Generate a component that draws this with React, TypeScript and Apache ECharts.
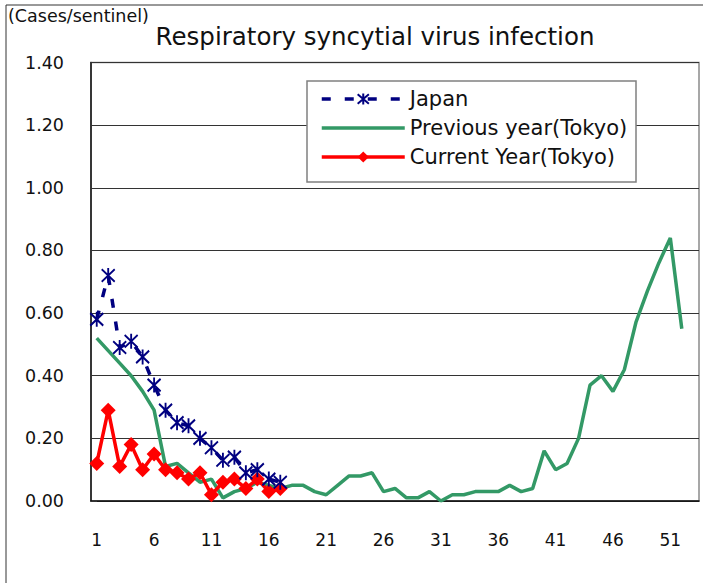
import React, { useEffect, useRef } from "react";
import * as echarts from "echarts";

const weeks: string[] = Array.from({ length: 53 }, (_, i) => String(i + 1));

const japan: number[] = [0.58, 0.72, 0.49, 0.51, 0.46, 0.37, 0.29, 0.25, 0.24, 0.2, 0.17, 0.13, 0.14, 0.09, 0.1, 0.07, 0.06];

const previousYear: number[] = [
  0.52, 0.48, 0.44, 0.4, 0.35, 0.29, 0.11, 0.12, 0.09, 0.06,
  0.07, 0.01, 0.03, 0.04, 0.06, 0.05, 0.04, 0.05, 0.05, 0.03,
  0.02, 0.05, 0.08, 0.08, 0.09, 0.03, 0.04, 0.01, 0.01, 0.03,
  0.0, 0.02, 0.02, 0.03, 0.03, 0.03, 0.05, 0.03, 0.04, 0.16,
  0.1, 0.12, 0.2, 0.37, 0.4, 0.35, 0.42, 0.57, 0.67, 0.76,
  0.84, 0.55,
];

const currentYear: number[] = [0.12, 0.29, 0.11, 0.18, 0.1, 0.15, 0.1, 0.09, 0.07, 0.09, 0.02, 0.06, 0.07, 0.04, 0.07, 0.03, 0.04];

const FONT = "DejaVu Sans";
const STAR = "path://M0,1L10,11M10,1L0,11M5,0L5,12";
const LINE_ICON = "path://M0,0L0.01,0M0,14L0.01,14M0,5.25L83,5.25L83,8.75L0,8.75Z";

export default function App() {
  const ref = useRef<HTMLDivElement>(null);
  useEffect(() => {
    document.body.style.margin = "0";
    const chart = echarts.init(ref.current!, null, { renderer: "svg" });
    chart.setOption({
      animation: false,
      backgroundColor: "#ffffff",
      textStyle: { fontFamily: FONT },
      grid: {
        left: 91,
        top: 62.5,
        right: 4,
        bottom: 82,
        show: true,
        borderColor: "#8a8a8a",
        borderWidth: 1.5,
        backgroundColor: "transparent",
      },
      graphic: [
        { type: "line", shape: { x1: 6, y1: 5, x2: 703, y2: 5 }, style: { stroke: "#333", lineWidth: 1 } },
        { type: "line", shape: { x1: 6, y1: 5, x2: 6, y2: 583 }, style: { stroke: "#333", lineWidth: 1 } },
        {
          type: "text",
          x: 8,
          y: 16,
          style: { text: "(Cases/sentinel)", fontSize: 17.5, fontFamily: FONT, fill: "#111", textVerticalAlign: "middle" },
        },
        {
          type: "text",
          x: 375,
          y: 36,
          style: {
            text: "Respiratory syncytial virus infection",
            fontSize: 24.5,
            fontFamily: FONT,
            fill: "#111",
            textAlign: "center",
            textVerticalAlign: "middle",
          },
        },
        {
          type: "rect",
          z: 3,
          shape: { x: 307, y: 81, width: 329, height: 101 },
          style: { fill: "#ffffff", stroke: "#808080", lineWidth: 1.5 },
        },
      ],
      legend: {
        orient: "vertical",
        left: 307,
        top: 81,
        padding: [7, 4, 13, 13],
        itemWidth: 83,
        itemHeight: 14,
        itemGap: 7,
        z: 5,
        textStyle: { fontSize: 21, lineHeight: 22, color: "#111", fontFamily: FONT },
        data: [
          { name: "Japan", lineStyle: { width: 3.5 } },
          { name: "Previous year(Tokyo)", icon: LINE_ICON, itemStyle: { color: "#339966" } },
          { name: "Current Year(Tokyo)", lineStyle: { width: 3.5 } },
        ],
      },
      xAxis: {
        type: "category",
        data: weeks,
        boundaryGap: true,
        axisLine: { lineStyle: { color: "#111", width: 1.5 } },
        axisTick: { interval: 4, inside: true, length: 7, lineStyle: { color: "#555", width: 1.5 } },
        axisLabel: { interval: 4, margin: 30, fontSize: 17, color: "#111", fontFamily: FONT },
        splitLine: { show: false },
      },
      yAxis: {
        type: "value",
        min: 0,
        max: 1.4,
        interval: 0.2,
        axisLine: { show: true, lineStyle: { color: "#111", width: 1.5 } },
        axisTick: { show: true, inside: true, length: 6, lineStyle: { color: "#333" } },
        axisLabel: { margin: 27, fontSize: 17.5, color: "#111", fontFamily: FONT, formatter: (v: number) => v.toFixed(2) },
        splitLine: { lineStyle: { color: "#333", width: 1 } },
      },
      series: [
        {
          name: "Japan",
          type: "line",
          data: japan,
          symbol: STAR,
          symbolSize: [13, 15],
          showAllSymbol: true,
          itemStyle: { color: "#000080", borderColor: "#000080", borderWidth: 2 },
          lineStyle: { color: "#000080", width: 3.5, type: [9, 14] },
          z: 4,
        },
        {
          name: "Previous year(Tokyo)",
          type: "line",
          data: previousYear,
          symbol: "none",
          itemStyle: { color: "#339966" },
          lineStyle: { color: "#339966", width: 3.5 },
          z: 2,
        },
        {
          name: "Current Year(Tokyo)",
          type: "line",
          data: currentYear,
          symbol: "diamond",
          symbolSize: 15,
          showAllSymbol: true,
          itemStyle: { color: "#ff0000", borderWidth: 0 },
          lineStyle: { color: "#ff0000", width: 3.5 },
          z: 3,
        },
      ],
    });
    return () => chart.dispose();
  }, []);
  return <div ref={ref} style={{ width: 703, height: 583 }} />;
}
